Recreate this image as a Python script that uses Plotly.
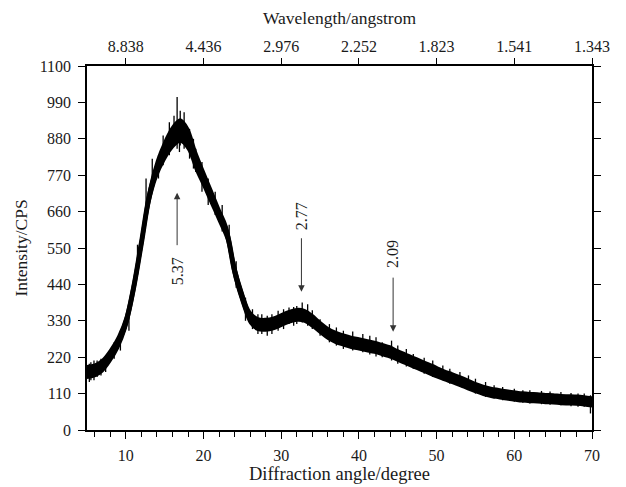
import plotly.graph_objects as go

# ---- data ----
angle_deg = list(range(5, 71))  # diffraction angle 2-theta
intensity_mean = [175, 180, 195, 225, 265, 325, 430, 565, 705, 790,
                  845, 885, 905, 880, 815, 760, 705, 650, 595, 480,
                  400, 340, 320, 318, 322, 332, 342, 348, 345, 330,
                  310, 292, 280, 272, 265, 260, 255, 250, 243, 236,
                  225, 215, 205, 195, 185, 175, 165, 157, 148, 138,
                  128, 120, 114, 110, 106, 103, 100, 98, 97, 95,
                  94, 92, 91, 90, 88, 85]
intensity_halfwidth = [18, 18, 18, 18, 18, 18, 20, 20, 22, 24,
                       28, 32, 34, 32, 28, 24, 22, 20, 20, 20,
                       18, 18, 18, 18, 18, 18, 18, 18, 18, 18,
                       17, 17, 17, 17, 17, 17, 17, 17, 17, 17,
                       16, 16, 16, 16, 16, 16, 15, 15, 15, 15,
                       14, 14, 14, 14, 14, 14, 14, 14, 14, 14,
                       14, 14, 14, 14, 14, 14]
spike_x = [5.3, 5.5, 5.9, 6.3, 6.8, 7.4, 8.5, 9.3, 10.4, 11.5, 12.6, 13.4, 14.2, 14.8,
           15.6, 16.2, 16.6, 16.9, 17.0, 17.5, 18.2, 18.7, 19.0, 19.8, 20.6, 21.5,
           22.4, 23.3, 24.2, 25.4, 26.3, 27.0, 27.5, 28.2, 28.8, 29.6, 30.3, 31.0,
           31.6, 32.0, 32.7, 33.4, 34.0, 35.0, 36.2, 37.1, 38.0, 39.2, 40.5, 41.4,
           42.2, 43.0, 44.2, 45.0, 46.1, 47.0, 48.4, 49.5, 50.8, 51.7, 53.0, 54.1,
           55.0, 56.3, 57.4, 58.5, 60.0, 61.1, 62.0, 63.5, 64.6, 66.0, 67.3, 68.2, 69.0, 69.8]
spike_lo = [145, 150, 150, 160, 165, 175, 215, 240, 300, 470, 640, 720, 760, 800,
            830, 860, 850, 840, 860, 850, 820, 790, 780, 720, 680, 650,
            600, 540, 430, 330, 305, 290, 290, 285, 290, 300, 305, 320,
            315, 320, 325, 315, 305, 285, 265, 255, 245, 240, 235, 228,
            222, 220, 210, 200, 192, 185, 170, 160, 150, 140, 130, 122,
            110, 100, 95, 90, 85, 82, 80, 78, 76, 75, 72, 70, 70, 50]
spike_hi = [200, 205, 210, 210, 215, 225, 265, 300, 360, 560, 760, 820, 830, 890,
            930, 950, 1006, 920, 965, 960, 910, 880, 850, 810, 760, 720,
            680, 620, 510, 400, 365, 350, 350, 345, 350, 360, 365, 370,
            372, 375, 385, 380, 362, 335, 320, 310, 300, 298, 290, 285,
            280, 265, 270, 255, 245, 230, 218, 210, 195, 185, 175, 165,
            155, 145, 135, 130, 125, 120, 120, 118, 116, 115, 112, 110, 110, 105]

wave_tick_angle = [10, 20, 30, 40, 50, 60, 70]
wave_tick_text = ["8.838", "4.436", "2.976", "2.252", "1.823", "1.541", "1.343"]
x_ticks = [10, 20, 30, 40, 50, 60, 70]
y_ticks = [0, 110, 220, 330, 440, 550, 660, 770, 880, 990, 1100]

# annotations: label, angle, arrow tail, arrow tip, text centre
peak_labels = ["5.37", "2.77", "2.09"]
peak_angle = [16.6, 32.6, 44.4]
arrow_tail = [554, 584, 465]
arrow_tip = [717, 418, 297]
label_y = [480, 647, 532]

FONT = "Liberation Serif, Times New Roman, serif"
INK = "#1a1a1a"

upper = [m + h for m, h in zip(intensity_mean, intensity_halfwidth)]
lower = [m - h for m, h in zip(intensity_mean, intensity_halfwidth)]

sx, sy = [], []
for x, lo, hi in zip(spike_x, spike_lo, spike_hi):
    sx += [x, x, None]
    sy += [lo, hi, None]

fig = go.Figure()
fig.add_trace(go.Scatter(x=angle_deg, y=lower, mode="lines", line=dict(color="black", width=2, shape="spline"),
                         showlegend=False, hoverinfo="skip"))
fig.add_trace(go.Scatter(x=angle_deg, y=upper, mode="lines", line=dict(color="black", width=2, shape="spline"),
                         fill="tonexty", fillcolor="black", showlegend=False, hoverinfo="skip"))
fig.add_trace(go.Scatter(x=angle_deg, y=intensity_mean, mode="lines", line=dict(color="black", width=5, shape="spline"),
                         showlegend=False, hoverinfo="skip"))
fig.add_trace(go.Scatter(x=sx, y=sy, mode="lines", line=dict(color="black", width=1.3),
                         showlegend=False, hoverinfo="skip"))
# invisible trace for the top axis
fig.add_trace(go.Scatter(x=[5, 70], y=[0, 0], xaxis="x2", mode="lines", line=dict(width=0),
                         showlegend=False, hoverinfo="skip", opacity=0))

for lab, ang, t0, t1, ly in zip(peak_labels, peak_angle, arrow_tail, arrow_tip, label_y):
    fig.add_annotation(x=ang, y=t1, ax=ang, ay=t0, xref="x", yref="y", axref="x", ayref="y",
                       showarrow=True, arrowhead=2, arrowsize=1.3, arrowwidth=1, arrowcolor="#333",
                       text="")
    fig.add_annotation(x=ang, y=ly, xref="x", yref="y", text=lab, showarrow=False, textangle=-90,
                       font=dict(family=FONT, size=16, color=INK))

axis_common = dict(showline=True, linecolor="black", linewidth=1.5, ticks="outside",
                   tickcolor="black", tickwidth=1.2, showgrid=False, zeroline=False, automargin=False,
                   tickfont=dict(family=FONT, size=16, color=INK))

fig.update_layout(
    width=618, height=479,
    margin=dict(l=79, r=34, t=58, b=57),
    paper_bgcolor="white", plot_bgcolor="white",
    xaxis=dict(range=[5, 70], tickvals=x_ticks, ticklen=7, ticklabelstandoff=3,
               minor=dict(dtick=2, tick0=0, ticks="outside", ticklen=5, tickcolor="black", tickwidth=1.2),
               title=dict(text="Diffraction angle/degree", font=dict(family=FONT, size=18.5, color=INK), standoff=0),
               **axis_common),
    xaxis2=dict(range=[5, 70], overlaying="x", side="top", tickvals=wave_tick_angle, ticktext=wave_tick_text,
                ticklen=6, ticklabelstandoff=0,
                title=dict(text="Wavelength/angstrom", font=dict(family=FONT, size=17.5, color=INK), standoff=10),
                **axis_common),
    yaxis=dict(range=[0, 1100], tickvals=y_ticks, ticklen=7, mirror="ticks", ticklabelstandoff=4,
               title=dict(text="Intensity/CPS", font=dict(family=FONT, size=17.5, color=INK), standoff=8),
               **axis_common),
)

fig.write_html("out.html")
